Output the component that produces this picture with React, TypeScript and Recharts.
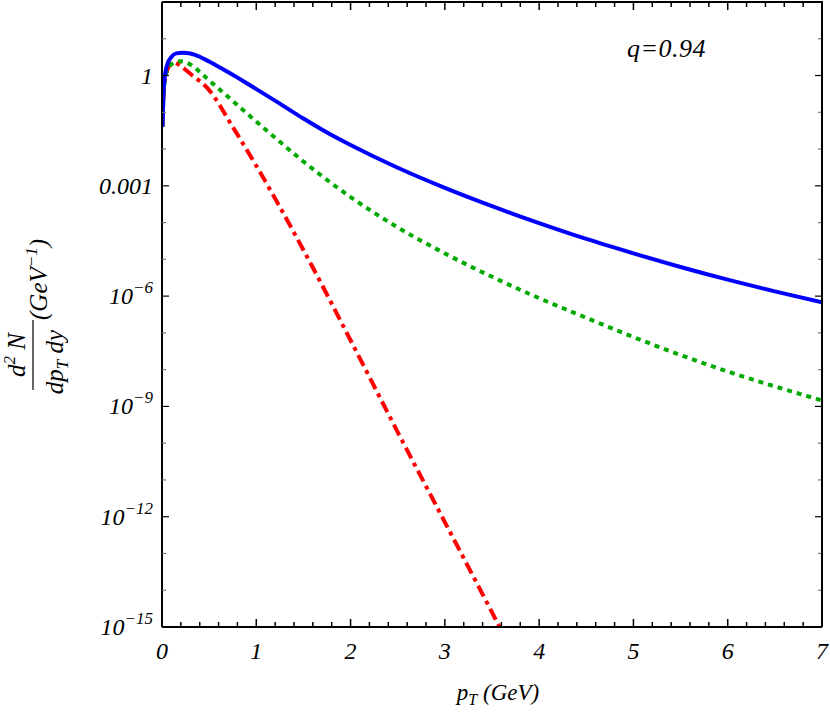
import { LineChart, Line, XAxis, YAxis } from "recharts";

// pT (GeV) sample points and dN/dpT dy values, per curve
const PT_BLUE = [0.005, 0.02, 0.05, 0.1, 0.15, 0.22, 0.3, 0.4, 0.5, 0.6, 0.75, 1, 1.25, 1.5, 1.75, 2, 2.5, 3, 3.5, 4, 4.5, 5, 5.5, 6, 6.5, 7];
const BLUE = [0.04, 0.5, 1.8, 3.2, 4.0, 4.17, 3.98, 3.24, 2.4, 1.74, 1.05, 0.427, 0.172, 0.0676, 0.0282, 0.0129, 0.0031, 8.8e-4, 2.8e-4, 9.7e-5, 3.6e-5, 1.46e-5, 6.2e-6, 2.8e-6, 1.35e-6, 6.8e-7];

const PT_GREEN = [0.005, 0.02, 0.05, 0.1, 0.19, 0.25, 0.3, 0.4, 0.5, 0.75, 1, 1.25, 1.5, 1.75, 2, 2.5, 3, 3.5, 4, 4.5, 5, 5.5, 6, 6.5, 7];
const GREEN = [0.044, 0.4, 1.26, 2.0, 2.45, 2.3, 2.0, 1.26, 0.74, 0.204, 0.056, 0.0158, 4.6e-3, 1.45e-3, 4.95e-4, 7.4e-5, 1.45e-5, 3.35e-6, 8.8e-7, 2.57e-7, 7.7e-8, 2.5e-8, 8.9e-9, 3.5e-9, 1.45e-9];

const PT_RED = [0.005, 0.02, 0.05, 0.12, 0.2, 0.3, 0.5, 0.75, 1, 1.5, 2, 2.5, 3, 3.5, 3.6];
const RED = [0.044, 0.4, 1.26, 2.3, 1.8, 1.12, 0.4, 0.04, 3.5e-3, 1.8e-5, 6.3e-8, 2.0e-10, 7.1e-13, 2.5e-15, 8.0e-16];

const X_TICKS = [0, 0.2, 0.4, 0.6, 0.8, 1, 1.2, 1.4, 1.6, 1.8, 2, 2.2, 2.4, 2.6, 2.8, 3, 3.2, 3.4, 3.6, 3.8, 4, 4.2, 4.4, 4.6, 4.8, 5, 5.2, 5.4, 5.6, 5.8, 6, 6.2, 6.4, 6.6, 6.8, 7];
const Y_TICKS = [1e-15, 1e-14, 1e-13, 1e-12, 1e-11, 1e-10, 1e-9, 1e-8, 1e-7, 1e-6, 1e-5, 1e-4, 1e-3, 1e-2, 1e-1, 1, 10, 100];
const Y_LABEL_VALUES = [1e-15, 1e-12, 1e-9, 1e-6, 1e-3, 1];
const Y_LABEL_BASE = ["10", "10", "10", "10", "0.001", "1"];
const Y_LABEL_EXP = ["\u221215", "\u221212", "\u22129", "\u22126", "", ""];

const toRows = (xs: number[], ys: number[]) => xs.map((x, i) => ({ pt: x, v: ys[i] }));
const blueData = toRows(PT_BLUE, BLUE);
const greenData = toRows(PT_GREEN, GREEN);
const redData = toRows(PT_RED, RED);

const FONT = "'Liberation Serif', 'Times New Roman', serif";
// plot frame edges (page = svg coords)
const PLOT_TOP = 2;
const PLOT_RIGHT = 822;
const PLOT_LEFT = 162;
const PLOT_BOTTOM = 627;

const isInt = (v: number) => Math.abs(v - Math.round(v)) < 1e-6;
const labelIndex = (v: number) => Y_LABEL_VALUES.findIndex((t) => Math.abs(Math.log10(t) - Math.log10(v)) < 1e-6);

// bottom ticks also mirror onto the top frame edge
function BottomTick(p: any) {
  const v = p.payload.value;
  const major = isInt(v);
  const len = major ? 8 : 5;
  return (
    <g>
      <line x1={p.x} x2={p.x} y1={p.y} y2={p.y - len} stroke="#000" strokeWidth={1.5} />
      <line x1={p.x} x2={p.x} y1={PLOT_TOP} y2={PLOT_TOP + len} stroke="#000" strokeWidth={1.5} />
      {major && (
        <text x={p.x} y={p.y + 32} textAnchor="middle" fontFamily={FONT} fontStyle="italic" fontSize={24} fill="#000">
          {Math.round(v)}
        </text>
      )}
    </g>
  );
}

// left ticks also mirror onto the right frame edge
function LeftTick(p: any) {
  const idx = labelIndex(p.payload.value);
  const major = idx >= 0;
  const len = major ? 7 : 4;
  const col = major ? "#000" : "#777";
  return (
    <g>
      <line x1={p.x} x2={p.x + len} y1={p.y} y2={p.y} stroke={col} strokeWidth={1.2} />
      <line x1={PLOT_RIGHT} x2={PLOT_RIGHT - len} y1={p.y} y2={p.y} stroke={col} strokeWidth={1.2} />
      {major && (
        <text x={p.x - 9} y={p.y + 8} textAnchor="end" fontFamily={FONT} fontStyle="italic" fontSize={24} fill="#000">
          <tspan>{Y_LABEL_BASE[idx]}</tspan>
          {Y_LABEL_EXP[idx] && <tspan dy={-11} fontSize={17}>{Y_LABEL_EXP[idx]}</tspan>}
        </text>
      )}
    </g>
  );
}

export default function App() {
  return (
    <div style={{ position: "absolute", left: 0, top: 0, width: 830, height: 713 }}>
      <LineChart width={830} height={713} margin={{ top: PLOT_TOP, right: 830 - PLOT_RIGHT, bottom: 0, left: 0 }}>
        <XAxis dataKey="pt" type="number" domain={[0, 7]} ticks={X_TICKS} interval={0}
          height={713 - PLOT_BOTTOM} tickSize={0} tickMargin={0} tickLine={false} tick={<BottomTick />}
          axisLine={{ stroke: "#000", strokeWidth: 2 }} allowDataOverflow />
        <YAxis dataKey="v" scale="log" type="number" domain={[1e-15, 100]} ticks={Y_TICKS} interval={0}
          width={PLOT_LEFT} tickSize={0} tickMargin={0} tickLine={false} tick={<LeftTick />}
          axisLine={{ stroke: "#000", strokeWidth: 2 }} allowDataOverflow />
        <Line data={redData} dataKey="v" type="monotone" stroke="#ff0000" strokeWidth={4}
          strokeDasharray="12 5 4 5" dot={false} activeDot={false} isAnimationActive={false} />
        <Line data={greenData} dataKey="v" type="monotone" stroke="#00aa00" strokeWidth={4}
          strokeDasharray="5 5" dot={false} activeDot={false} isAnimationActive={false} />
        <Line data={blueData} dataKey="v" type="monotone" stroke="#0000ff" strokeWidth={4}
          dot={false} activeDot={false} isAnimationActive={false} />
      </LineChart>
      <svg width={830} height={713} style={{ position: "absolute", left: 0, top: 0, pointerEvents: "none" }}>
        {/* top and right edges of the frame */}
        <polyline points={`${PLOT_LEFT},${PLOT_TOP} ${PLOT_RIGHT},${PLOT_TOP} ${PLOT_RIGHT},${PLOT_BOTTOM}`}
          fill="none" stroke="#000" strokeWidth={2} />
        <g fontFamily={FONT} fontStyle="italic" fill="#000">
          <text x={627} y={57} fontSize={26} letterSpacing={0.5}>q=0.94</text>
          <text x={498} y={700} fontSize={23} textAnchor="middle">
            <tspan>p</tspan>
            <tspan dy={5} fontSize={16}>T</tspan>
            <tspan dy={-5}> (GeV)</tspan>
          </text>
          <g transform="translate(33, 356) rotate(-90)">
            <line x1={-34} x2={36} y1={0} y2={0} stroke="#000" strokeWidth={1.2} />
            <text x={1} y={-8} fontSize={25} textAnchor="middle">
              <tspan>d</tspan>
              <tspan dy={-10} fontSize={17}>2</tspan>
              <tspan dy={10}> N</tspan>
            </text>
            <text x={-6} y={30} fontSize={25} textAnchor="middle">
              <tspan>dp</tspan>
              <tspan dy={5} fontSize={17}>T</tspan>
              <tspan dy={-5}> dy</tspan>
            </text>
            <text x={36} y={14} fontSize={25}>
              <tspan>(GeV</tspan>
              <tspan dy={-10} fontSize={17}>{"\u22121"}</tspan>
              <tspan dy={10}>)</tspan>
            </text>
          </g>
        </g>
      </svg>
    </div>
  );
}
